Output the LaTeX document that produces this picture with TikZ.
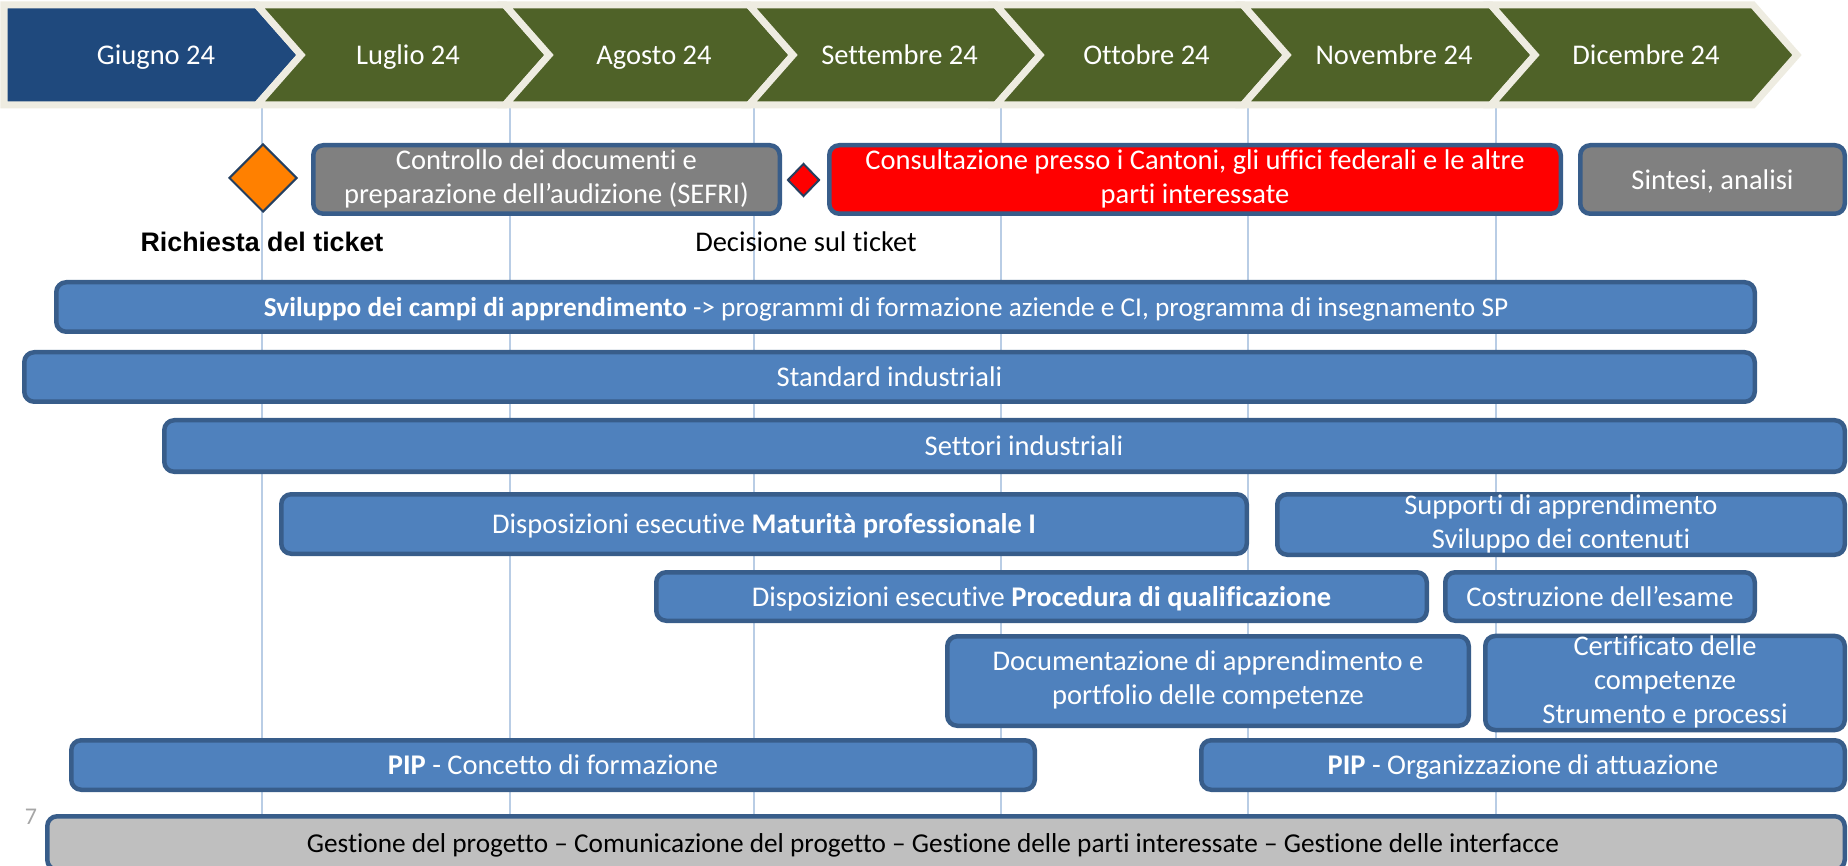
\documentclass[tikz,border=0pt]{standalone}
\usepackage{fontspec}
\setmainfont{Carlito}[Ligatures=NoCommon]
\newfontfamily\arialfont{Liberation Sans}
\usetikzlibrary{shapes.geometric}
\definecolor{barblue}{HTML}{4F81BD}
\definecolor{boxedge}{HTML}{385D8A}
\definecolor{hdrblue}{HTML}{1F497D}
\definecolor{hdrgreen}{HTML}{4F6228}
\definecolor{hdrline}{HTML}{EEECE1}
\definecolor{gridcol}{HTML}{B9CDE5}
\definecolor{grayfill}{HTML}{808080}
\definecolor{lightgrayfill}{HTML}{BFBFBF}
\definecolor{orangem}{HTML}{FF8000}
\definecolor{msedge}{HTML}{243F60}
\definecolor{numgray}{HTML}{A6A6A6}
\newcommand\lnstrut{\rule[-6.3pt]{0pt}{31.9pt}}
\begin{document}
\begin{tikzpicture}[x=1pt,y=-1pt,
  every node/.style={font=\fontsize{28.5}{34}\selectfont, inner sep=0pt,
    execute at begin node=\lnstrut, execute at end node=\lnstrut},
  box/.style={draw=boxedge, line width=4.5pt, rounded corners=10pt, align=center, text=white},
  bluebox/.style={box, fill=barblue},
  graybox/.style={box, fill=grayfill},
  redbox/.style={box, fill=red},
  mgmtbox/.style={box, fill=lightgrayfill, text=black},
  month/.style={text=white},
  chev/.style={draw=hdrline, line width=7pt, line join=miter},
  gridl/.style={draw=gridcol, line width=2pt},
  milestone/.style={diamond, draw=msedge, line width=2pt, inner sep=0pt},
  narrowtext/.style={font=\fontsize{27.3}{34}\selectfont}
]
\useasboundingbox (0,0) rectangle (1848,866);
\clip (0,0) rectangle (1848,866);

% grid lines
\foreach \x in {262,510,754,1001,1248,1496}
  \draw[gridl] (\x,107) -- (\x,815);

% header chevrons
\filldraw[chev, fill=hdrblue] (4,5) -- (257,5) -- (301,55) -- (257,105) -- (4,105) -- cycle;
\foreach \a/\b in {257/505, 505/749, 749/996, 996/1243, 1243/1491, 1491/1753}
  \filldraw[chev, fill=hdrgreen] (\a,5) -- (\b,5) -- (\b+44,55) -- (\b,105) -- (\a,105) -- (\a+44,55) -- cycle;

\node[month] (giu) at (156,55) {Giugno 24};
\node[month] (lug) at (408,55) {Luglio 24};
\node[month] (ago) at (654,55) {Agosto 24};
\node[month] (set) at (899.5,55) {Settembre 24};
\node[month] (ott) at (1146.5,55) {Ottobre 24};
\node[month] (nov) at (1394,55) {Novembre 24};
\node[month] (dic) at (1646,55) {Dicembre 24};

% milestones
\node[milestone, fill=orangem, minimum width=68pt, minimum height=68pt] (ms1) at (263,178) {};
\node[milestone, fill=red, minimum width=32pt, minimum height=33pt] (ms2) at (803.5,180) {};
\node[font=\arialfont\bfseries\fontsize{26.8}{30}\selectfont] (ms1l) at (262,242) {Richiesta del ticket};
\node (ms2l) at (806,242) {Decisione sul ticket};

% row 1
\node[graybox, minimum width=466.5pt, minimum height=68.5pt] (ctrl) at (546.5,179.5)
  {Controllo dei documenti e\\preparazione dell’audizione (SEFRI)};
\node[redbox, minimum width=731.5pt, minimum height=68.5pt] (cons) at (1195,179.5)
  {Consultazione presso i Cantoni, gli uffici federali e le altre\\parti interessate};
\node[graybox, minimum width=264.5pt, minimum height=68.5pt] (sint) at (1712.5,179.5)
  {Sintesi, analisi};

% long bars
\node[bluebox, minimum width=1698.5pt, minimum height=49.5pt] (svil) at (905.5,307) {};
\node[text=white, narrowtext] (svilt) at (886,307)
  {\textbf{Sviluppo dei campi di apprendimento} -> programmi di formazione aziende e CI, programma di insegnamento SP};
\node[bluebox, minimum width=1730.5pt, minimum height=49.5pt] (std) at (889.5,377) {Standard industriali};
\node[bluebox, minimum width=1680.5pt, minimum height=51.5pt] (sett) at (1004.5,446) {};
\node[text=white] (settt) at (1024,446) {Settori industriali};

% row maturita
\node[bluebox, minimum width=965.5pt, minimum height=59.5pt] (matu) at (764,524)
  {Disposizioni esecutive \textbf{Maturità professionale I}};
\node[bluebox, minimum width=567.5pt, minimum height=60.5pt] (supp) at (1561,524.5)
  {Supporti di apprendimento\\Sviluppo dei contenuti};

% row procedura
\node[bluebox, minimum width=770.5pt, minimum height=48.5pt] (proc) at (1041.5,596.5)
  {Disposizioni esecutive \textbf{Procedura di qualificazione}};
\node[bluebox, minimum width=309.5pt, minimum height=48.5pt] (cost) at (1600,596.5)
  {Costruzione dell’esame};

% row documentazione
\node[bluebox, minimum width=521.5pt, minimum height=89.5pt] (docu) at (1208,681)
  {Documentazione di apprendimento e\\portfolio delle competenze};
\node[bluebox, minimum width=359.5pt, minimum height=87.5pt] (cert) at (1665,683)
  {Certificato delle\\competenze\\Strumento e processi};

% row PIP
\node[bluebox, minimum width=963.5pt, minimum height=49.5pt] (pip1) at (553,765)
  {\textbf{PIP} - Concetto di formazione};
\node[bluebox, minimum width=643.5pt, minimum height=49.5pt] (pip2) at (1523,765)
  {\textbf{PIP} - Organizzazione di attuazione};

% management bar
\node[mgmtbox, minimum width=1797.5pt, minimum height=53.5pt] (gest) at (946,843) {};
\node[narrowtext] (gestt) at (933,843)
  {Gestione del progetto – Comunicazione del progetto – Gestione delle parti interessate – Gestione delle interfacce};

\node[text=numgray, font=\fontsize{24}{28}\selectfont] (pagenum) at (31,815) {7};
\end{tikzpicture}
\end{document}
